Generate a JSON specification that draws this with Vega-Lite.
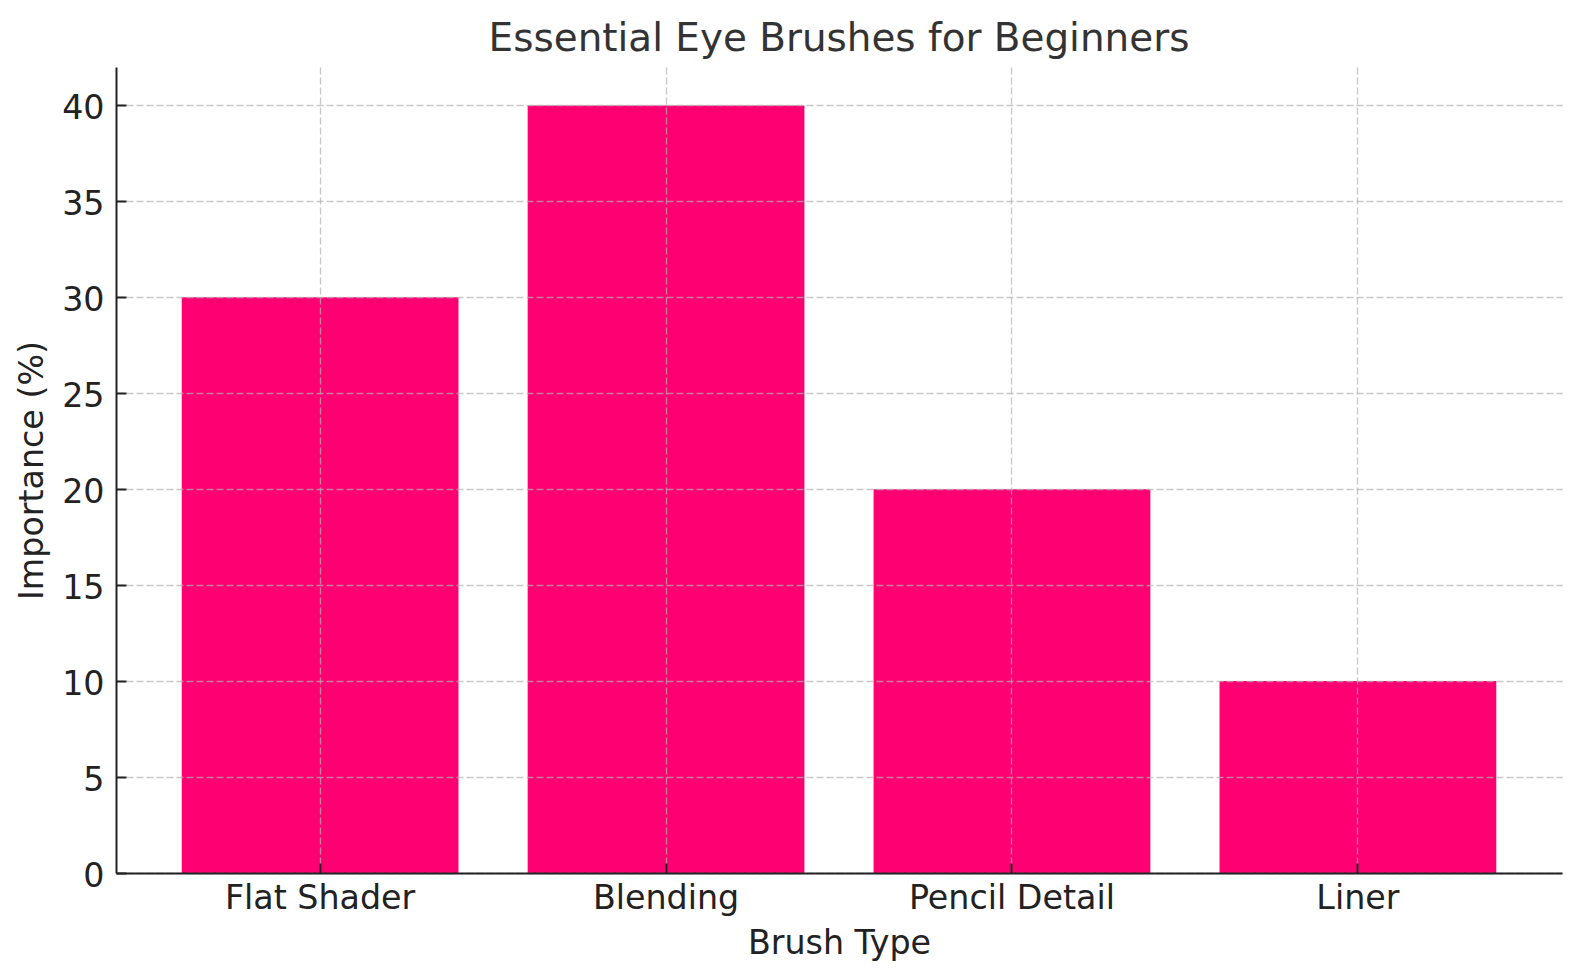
{
  "$schema": "https://vega.github.io/schema/vega-lite/v6.json",
  "autosize": "none",
  "width": 1446,
  "height": 806,
  "padding": {"left": 116, "top": 67, "right": 18, "bottom": 107},
  "background": "white",
  "title": {
    "text": "Essential Eye Brushes for Beginners",
    "font": "DejaVu Sans",
    "fontSize": 38.9,
    "fontWeight": "normal",
    "color": "#333333",
    "anchor": "middle",
    "frame": "group",
    "baseline": "alphabetic",
    "offset": -23
  },
  "data": {
    "values": [
      {"brush": "Flat Shader", "importance": 30},
      {"brush": "Blending", "importance": 40},
      {"brush": "Pencil Detail", "importance": 20},
      {"brush": "Liner", "importance": 10}
    ]
  },
  "mark": {"type": "bar", "color": "#ff0073"},
  "encoding": {
    "x": {
      "field": "brush",
      "type": "nominal",
      "sort": null,
      "scale": {"paddingInner": 0.2, "paddingOuter": 0.19},
      "axis": {
        "title": "Brush Type",
        "labelAngle": 0,
        "labelLimit": 0,
        "zindex": 1,
        "grid": true,
        "gridColor": "#b0b0b0",
        "gridOpacity": 0.7,
        "gridDash": [7, 3],
        "gridWidth": 1.3,
        "domainColor": "#222222",
        "domainWidth": 2,
        "tickColor": "#222222",
        "tickWidth": 2,
        "tickSize": -10,
        "labelFont": "DejaVu Sans",
        "labelFontSize": 33.3,
        "labelColor": "#222222",
        "labelBaseline": "alphabetic",
        "labelPadding": 45,
        "titleFont": "DejaVu Sans",
        "titleFontSize": 33.3,
        "titleFontWeight": "normal",
        "titleColor": "#222222",
        "titlePadding": 13
      }
    },
    "y": {
      "field": "importance",
      "type": "quantitative",
      "scale": {"domain": [0, 42], "nice": false},
      "axis": {
        "title": "Importance (%)",
        "values": [0, 5, 10, 15, 20, 25, 30, 35, 40],
        "zindex": 1,
        "grid": true,
        "gridColor": "#b0b0b0",
        "gridOpacity": 0.7,
        "gridDash": [7, 3],
        "gridWidth": 1.3,
        "domainColor": "#222222",
        "domainWidth": 2,
        "tickColor": "#222222",
        "tickWidth": 2,
        "tickSize": -10,
        "labelFont": "DejaVu Sans",
        "labelFontSize": 33.3,
        "labelColor": "#222222",
        "labelBaseline": "alphabetic",
        "labelOffset": 13,
        "labelPadding": 22,
        "titleFont": "DejaVu Sans",
        "titleFontSize": 33.3,
        "titleFontWeight": "normal",
        "titleColor": "#222222",
        "titlePadding": 12
      }
    }
  },
  "config": {"view": {"stroke": null}}
}
